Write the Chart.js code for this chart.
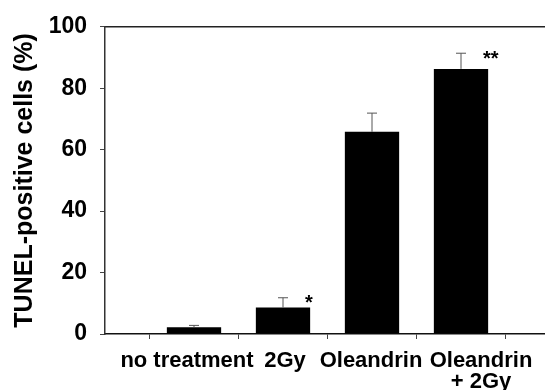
<!DOCTYPE html>
<html>
<head>
<meta charset="utf-8">
<script src="https://cdn.jsdelivr.net/npm/chart.js@4"></script>
<style>
  html, body { margin: 0; padding: 0; background: #fff; overflow: hidden; }
</style>
</head>
<body>
<canvas id="myChart" width="560" height="390"></canvas>
<script>
const categories = ['no treatment', '2Gy', 'Oleandrin', ['Oleandrin', '+ 2Gy']];
const tunelValues = [2.2, 8.6, 65.8, 86.3];
const tunelErrors = [0.6, 3.2, 6.1, 5.1];
const significance = ['', '*', '', '**'];
const yMin = 0, yMax = 100, yStep = 20;

const FONT = "'Liberation Sans', Arial, Helvetica, sans-serif";
// horizontal nudge of each category label, the original isn't quite centred
const labelNudge = [-7, 2, -1, 20];

// empty slot on each side so the bars sit on the axis ticks like the original
const labels = [''].concat(categories.map(c => Array.isArray(c) ? c.join(' ') : c), ['']);
const barData = [null].concat(tunelValues, [null]);

const errorBars = {
    id: 'errorBars',
    afterDatasetsDraw(chart) {
        const ctx = chart.ctx;
        const y = chart.scales.y;
        const meta = chart.getDatasetMeta(0);
        ctx.save();
        tunelValues.forEach((v, i) => {
            const bar = meta.data[i + 1];
            const top = y.getPixelForValue(v + tunelErrors[i]);
            ctx.strokeStyle = '#555';
            ctx.lineWidth = 1;
            ctx.beginPath();
            ctx.moveTo(bar.x, bar.y);
            ctx.lineTo(bar.x, top);
            ctx.moveTo(bar.x - 5, top);
            ctx.lineTo(bar.x + 5, top);
            ctx.stroke();
            if (significance[i]) {
                ctx.fillStyle = '#000';
                ctx.font = 'bold 20px ' + FONT;
                ctx.textAlign = 'left';
                ctx.textBaseline = 'middle';
                ctx.fillText(significance[i], bar.x + 22, top + 6);
            }
        });
        ctx.restore();
    },
    afterDraw(chart) {
        // category labels, drawn by hand so each can be nudged
        const ctx = chart.ctx;
        const x = chart.scales.x;
        ctx.save();
        ctx.fillStyle = '#000';
        ctx.font = 'bold 22px ' + FONT;
        ctx.textAlign = 'center';
        ctx.textBaseline = 'alphabetic';
        categories.forEach((c, i) => {
            const lines = Array.isArray(c) ? c : [c];
            const px = x.getPixelForValue(i + 1) + labelNudge[i];
            lines.forEach((line, j) => {
                ctx.fillText(line, px, x.top + 33 + j * 21);
            });
        });
        ctx.restore();
    }
};

const ctx = document.getElementById('myChart').getContext('2d');
const myChart = new Chart(ctx, {
    type: 'bar',
    data: {
        labels: labels,
        datasets: [{
            data: barData,
            backgroundColor: '#000',
            borderWidth: 0,
            barPercentage: 0.61,
            categoryPercentage: 1
        }]
    },
    options: {
        responsive: false,
        animation: false,
        devicePixelRatio: 1,
        layout: { padding: { left: 0, right: 10, top: 0, bottom: 0 } },
        plugins: {
            legend: { display: false },
            tooltip: { enabled: false }
        },
        scales: {
            x: {
                offset: false,
                grid: { drawOnChartArea: false, drawTicks: true, tickLength: 5, color: '#444' },
                border: { display: true, color: '#111', width: 1.5 },
                ticks: { display: false },
                afterFit(scale) { scale.height = 56; }
            },
            top: {
                type: 'category',
                position: 'top',
                labels: labels,
                offset: false,
                grid: { drawOnChartArea: false, drawTicks: false },
                border: { display: true, color: '#222', width: 1.5 },
                ticks: { display: false },
                afterFit(scale) { scale.height = 21; }
            },
            y: {
                min: yMin,
                max: yMax,
                ticks: {
                    stepSize: yStep,
                    padding: 13,
                    color: '#000',
                    font: { family: FONT, size: 23, weight: 'bold' }
                },
                grid: { drawOnChartArea: false, drawTicks: true, tickLength: 5, color: '#444' },
                border: { display: true, color: '#333', width: 1.5 },
                title: {
                    display: true,
                    text: 'TUNEL-positive cells (%)',
                    color: '#000',
                    padding: { top: 10, bottom: 0 },
                    font: { family: FONT, size: 25, weight: 'bold' }
                },
                afterFit(scale) { scale.width = 105; }
            }
        }
    },
    plugins: [errorBars]
});
</script>
</body>
</html>
